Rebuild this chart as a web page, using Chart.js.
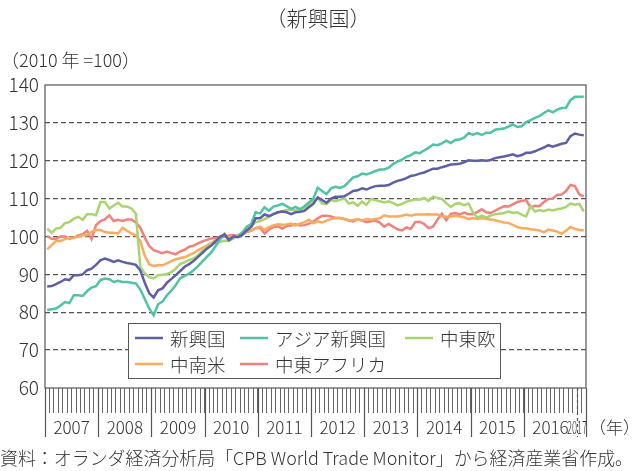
<!DOCTYPE html>
<html lang="ja">
<head>
<meta charset="utf-8">
<title>新興国</title>
<script src="https://cdn.jsdelivr.net/npm/chart.js@4.4.1/dist/chart.umd.min.js"></script>
<style>
  html, body { margin: 0; padding: 0; background: #fff; }
  #wrap { width: 633px; height: 471px; }
</style>
</head>
<body>
<div id="wrap"><canvas id="chart" width="633" height="471"></canvas></div>
<script>
// 月次（2010年=100）、2007年1月～2017年2月
const years = ['2007', '2008', '2009', '2010', '2011', '2012', '2013', '2014', '2015', '2016', '2017'];
const lastMonth = '2017-02';
const months = [];
for (const y of years) {
    for (let m = 1; m <= 12; m++) {
        const label = y + '-' + String(m).padStart(2, '0');
        if (label > lastMonth) break;
        months.push(label);
    }
}

const seriesNames = ['新興国', 'アジア新興国', '中東欧', '中南米', '中東アフリカ'];

const emerging = [
    86.8, 86.9, 87.4, 88.0, 88.7, 88.5, 89.8, 89.8, 90.0, 91.1, 91.5, 92.5,
    93.7, 94.2, 93.8, 93.3, 93.7, 93.3, 93.0, 92.8, 92.5, 91.0, 87.8, 85.0,
    83.9, 85.8, 86.3, 87.8, 88.8, 89.8, 90.9, 92.0, 92.7, 93.5, 94.6, 95.7,
    96.8, 97.6, 98.8, 100.0, 100.5, 99.1, 100.0, 99.8, 100.4, 101.6, 102.5, 104.8,
    104.8, 105.8, 105.4, 105.9, 106.4, 106.6, 106.4, 105.9, 106.4, 106.5, 106.8, 107.7,
    108.6, 110.3, 109.6, 108.9, 110.0, 110.5, 110.5, 110.6, 111.3, 112.0, 112.2, 112.7,
    112.4, 112.9, 113.3, 113.4, 113.4, 113.6, 114.2, 114.7, 115.0, 115.4, 116.0, 116.2,
    116.6, 116.9, 117.4, 117.9, 117.9, 118.3, 118.6, 119.0, 119.1, 119.2, 119.6, 120.1,
    120.0, 120.0, 120.1, 120.0, 120.2, 120.7, 120.9, 121.1, 121.4, 121.7, 121.2, 121.5,
    122.1, 122.1, 122.5, 123.0, 123.5, 124.1, 123.7, 124.1, 124.5, 124.7, 126.5, 127.2,
    126.9, 126.7
];
const asia = [
    80.6, 80.8, 81.0, 81.8, 82.7, 82.4, 84.5, 84.5, 84.3, 85.6, 86.5, 86.9,
    88.5, 88.9, 88.7, 88.0, 88.3, 88.0, 88.0, 87.8, 87.6, 86.0, 83.5, 81.0,
    79.2, 82.1, 82.8, 84.5, 85.7, 87.2, 89.0, 89.6, 90.2, 91.1, 92.2, 93.4,
    94.6, 95.8, 97.5, 99.3, 100.7, 98.9, 100.0, 100.0, 101.0, 102.6, 103.3, 106.4,
    106.1, 107.7, 106.8, 107.9, 108.2, 108.6, 108.0, 107.3, 107.8, 107.2, 108.0, 109.0,
    110.0, 112.9, 112.0, 111.2, 112.7, 113.1, 112.8, 113.3, 114.4, 115.6, 115.9, 116.6,
    116.4, 116.8, 117.3, 117.7, 117.7, 118.2, 119.1, 119.8, 120.3, 121.0, 121.5, 122.2,
    122.0, 122.7, 123.4, 124.3, 124.1, 124.6, 125.3, 124.7, 125.5, 125.6, 126.1, 127.3,
    126.9, 127.3, 126.8, 127.4, 127.4, 128.2, 128.4, 128.5, 129.0, 129.6, 128.9, 129.1,
    130.2, 130.7, 131.3, 131.8, 132.6, 133.3, 132.8, 133.5, 133.9, 134.0, 136.0, 136.9,
    136.9, 136.9
];
const centralEastEurope = [
    102.1, 101.0, 102.1, 102.3, 103.5, 103.8, 104.7, 105.2, 104.4, 105.9, 105.9, 105.6,
    109.1, 109.1, 107.4, 108.2, 108.9, 107.9, 107.9, 107.4, 106.0, 91.8, 90.3, 89.2,
    89.0, 89.8, 89.9, 90.1, 90.6, 91.5, 92.8, 93.2, 93.8, 94.2, 95.0, 96.2,
    97.2, 97.9, 98.3, 98.6, 98.9, 98.9, 99.5, 100.3, 101.1, 102.2, 102.8, 103.8,
    104.0, 104.6, 105.2, 105.9, 106.3, 106.7, 107.0, 107.1, 106.9, 107.1, 107.6, 108.4,
    109.5, 110.1, 108.7, 108.6, 109.6, 109.3, 109.7, 110.1, 108.7, 109.0, 108.1, 109.2,
    108.4, 109.9, 109.6, 109.3, 109.0, 109.3, 108.8, 108.2, 108.6, 109.2, 109.5, 109.8,
    109.7, 110.2, 109.4, 110.5, 110.2, 109.9, 108.8, 107.8, 108.6, 108.8, 108.2, 108.7,
    106.4, 105.0, 105.5, 105.0, 105.5, 105.9, 106.0, 106.2, 106.6, 106.2, 106.4, 105.8,
    105.3, 108.1, 106.6, 107.0, 106.7, 107.1, 106.9, 107.2, 107.4, 107.8, 108.7, 108.4,
    108.6, 106.6
];
const latinAmerica = [
    96.6, 97.7, 98.8, 98.8, 99.3, 99.7, 99.7, 100.0, 100.3, 100.3, 101.2, 101.7,
    101.7, 101.2, 101.0, 101.0, 100.8, 102.3, 101.5, 100.8, 100.3, 98.8, 94.9, 92.7,
    92.2, 92.4, 92.4, 92.9, 93.5, 94.0, 94.3, 94.5, 95.1, 95.6, 96.4, 97.0,
    97.6, 98.3, 99.1, 99.9, 100.3, 99.9, 100.0, 100.2, 100.8, 101.3, 101.6, 102.2,
    102.6, 101.7, 102.5, 102.9, 103.2, 103.1, 103.2, 103.4, 102.9, 103.4, 103.8, 104.4,
    103.5, 104.0, 103.7, 104.2, 104.6, 104.9, 104.9, 104.7, 104.3, 104.3, 104.6, 104.2,
    104.6, 104.4, 104.6, 104.8, 105.6, 105.3, 105.3, 105.3, 105.5, 105.8, 105.5, 105.8,
    105.8, 105.8, 105.9, 105.8, 105.8, 105.4, 105.2, 105.3, 105.5, 105.3, 105.1, 104.6,
    104.9, 104.6, 104.9, 104.6, 104.5, 104.3, 104.0, 103.7, 103.6, 103.1, 102.5, 102.2,
    102.2, 101.9, 101.8, 101.6, 101.1, 101.8, 101.6, 101.3, 100.7, 101.5, 102.5, 102.0,
    101.7, 101.6
];
const middleEastAfrica = [
    100.1, 99.4, 99.4, 100.0, 100.0, 99.4, 99.7, 100.3, 100.6, 101.5, 99.3, 103.0,
    104.1, 104.5, 105.6, 104.1, 104.4, 104.1, 104.5, 104.5, 103.7, 102.3, 99.7, 97.5,
    96.4, 96.0, 95.6, 96.0, 95.6, 95.3, 96.1, 96.5, 97.3, 97.6, 98.2, 98.7,
    99.1, 99.5, 99.6, 99.8, 100.0, 100.3, 100.4, 100.1, 100.6, 101.2, 101.5, 102.2,
    102.3, 100.8, 101.8, 102.5, 102.7, 102.1, 102.8, 102.9, 103.2, 102.9, 103.0, 103.4,
    103.9, 104.8, 105.5, 105.5, 105.3, 104.9, 104.9, 104.6, 104.2, 104.0, 104.6, 104.2,
    103.8, 104.0, 104.2, 103.7, 102.6, 103.3, 102.6, 101.9, 101.6, 102.4, 102.0, 103.8,
    103.9, 103.3, 102.2, 102.6, 104.4, 106.0, 104.3, 106.0, 106.2, 105.8, 106.3, 105.9,
    105.9, 106.5, 107.2, 106.4, 106.2, 106.8, 107.4, 108.0, 107.9, 108.5, 109.1, 109.4,
    109.6, 107.6, 108.1, 108.0, 109.1, 109.9, 110.0, 111.0, 111.1, 112.0, 113.6, 113.3,
    111.1, 110.6
];

const seriesValues = [emerging, asia, centralEastEurope, latinAmerica, middleEastAfrica];
const seriesColors = ['#5d5fa9', '#4fc3a3', '#a9d470', '#fbab5e', '#f1817b'];

const FONT = '"Noto Sans CJK JP", "Noto Sans", sans-serif';
const TEXT_COLOR = '#333';
const LIGHT = '300 ';

// 枠・年区切り・凡例・見出しなど
const decorations = {
    id: 'decorations',
    afterDraw(chart) {
        const { ctx, chartArea: a, scales: { x } } = chart;
        const n = months.length;
        const edge = i => i <= 0 ? a.left : i >= n ? a.right
            : (x.getPixelForValue(i - 1) + x.getPixelForValue(i)) / 2;

        ctx.save();

        // plot frame
        ctx.strokeStyle = '#555';
        ctx.lineWidth = 1.2;
        ctx.strokeRect(a.left, a.top, a.right - a.left, a.bottom - a.top);

        // year separators below the axis
        const sepBottom = a.bottom + 49;
        const starts = years.map((y, k) => k * 12);
        starts.concat(n).forEach((i, k) => {
            const px = Math.round(edge(i)) + 0.5;
            const partial = k === years.length - 1;
            ctx.setLineDash(partial ? [3, 3] : []);
            ctx.beginPath();
            ctx.moveTo(px, a.bottom);
            ctx.lineTo(px, sepBottom);
            ctx.stroke();
        });
        ctx.setLineDash([]);

        // year labels
        ctx.fillStyle = TEXT_COLOR;
        ctx.font = LIGHT + '17px ' + FONT;
        ctx.textBaseline = 'middle';
        const labelY = a.bottom + 40;
        years.forEach((y, k) => {
            const i0 = k * 12, i1 = Math.min(i0 + 12, n);
            if (i1 - i0 < 12) {
                ctx.textAlign = 'right';
                ctx.fillText(y, a.right + 1, labelY, 20);
            } else {
                ctx.textAlign = 'center';
                ctx.fillText(y, (edge(i0) + edge(i1)) / 2, labelY);
            }
        });
        ctx.textAlign = 'left';
        ctx.fillText('（年）', a.right + 3, labelY);

        // title, unit and source
        ctx.font = LIGHT + '21px ' + FONT;
        ctx.textAlign = 'center';
        ctx.fillText('（新興国）', 318, 18);
        ctx.font = LIGHT + '18px ' + FONT;
        ctx.textAlign = 'left';
        ctx.fillText('（2010 年 =100）', 1, 60);
        ctx.fillText('資料：オランダ経済分析局「CPB World Trade Monitor」から経済産業省作成。', 0, 458, 633);

        // legend box inside the plot
        const bx = a.left + 83, by = a.top + 238, bw = 372, bh = 55;
        ctx.fillStyle = '#fff';
        ctx.fillRect(bx, by, bw, bh);
        ctx.strokeStyle = '#555';
        ctx.lineWidth = 1;
        ctx.strokeRect(bx + 0.5, by + 0.5, bw, bh);
        const colX = [7, 112, 277];
        const rowY = [15, 41];
        ctx.font = LIGHT + '18.5px ' + FONT;
        ctx.textBaseline = 'middle';
        chart.data.datasets.forEach((ds, k) => {
            const lx = bx + colX[k % 3];
            const ly = by + rowY[Math.floor(k / 3)];
            ctx.strokeStyle = ds.borderColor;
            ctx.lineWidth = 2.5;
            ctx.beginPath();
            ctx.moveTo(lx, ly);
            ctx.lineTo(lx + 28, ly);
            ctx.stroke();
            ctx.fillStyle = TEXT_COLOR;
            ctx.fillText(ds.label, lx + 35, ly + 1);
        });

        ctx.restore();
    }
};

const ctxChart = document.getElementById('chart').getContext('2d');
const chart = new Chart(ctxChart, {
    type: 'line',
    data: {
        labels: months,
        datasets: seriesNames.map((name, k) => ({
            label: name,
            data: seriesValues[k],
            borderColor: seriesColors[k],
            backgroundColor: seriesColors[k],
            borderWidth: 2.5,
            pointRadius: 0,
            tension: 0,
            fill: false
        }))
    },
    options: {
        responsive: false,
        animation: false,
        layout: { padding: { left: 0, top: 85, right: 47, bottom: 0 } },
        plugins: {
            legend: { display: false },
            tooltip: { enabled: false }
        },
        scales: {
            x: {
                type: 'category',
                offset: true,
                afterFit: scale => { scale.height = 83; },
                ticks: { display: false, autoSkip: false },
                grid: {
                    offset: true,
                    drawOnChartArea: false,
                    drawTicks: true,
                    tickLength: 25,
                    color: '#666',
                    lineWidth: 1
                },
                border: { display: false }
            },
            y: {
                min: 60,
                max: 140,
                afterFit: scale => { scale.width = 45; },
                ticks: {
                    stepSize: 10,
                    padding: 6,
                    color: TEXT_COLOR,
                    font: { family: FONT, size: 19, weight: '300' }
                },
                grid: {
                    drawTicks: false,
                    color: c => (c.tick.value === 60 || c.tick.value === 140) ? 'rgba(0,0,0,0)' : '#555',
                    lineWidth: 1.3
                },
                border: { display: false, dash: [5, 3] }
            }
        }
    },
    plugins: [decorations]
});
</script>
</body>
</html>
